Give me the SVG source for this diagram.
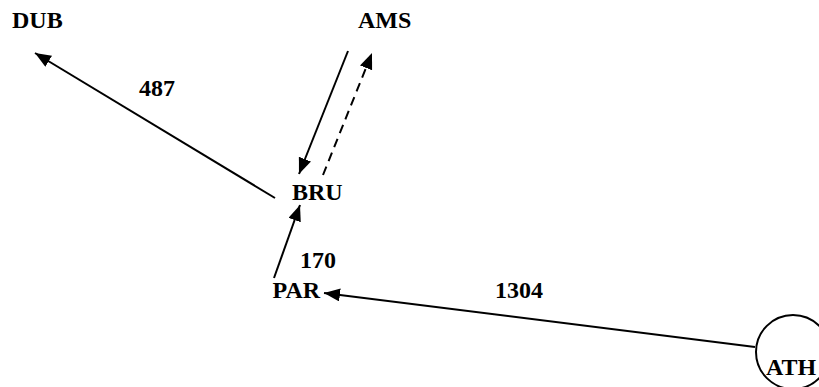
<svg xmlns="http://www.w3.org/2000/svg" width="819" height="387" viewBox="0 0 819 387">
<style>
text{font-family:"Liberation Serif","Times New Roman",serif;font-weight:bold;font-size:24px;fill:#000}
.e{stroke:#000;stroke-width:2;fill:none}
.d{stroke-dasharray:9 6}
</style>
<defs>
<marker id="ah" markerUnits="userSpaceOnUse" markerWidth="18" markerHeight="14" refX="16" refY="6.5" orient="auto">
<path d="M0,0 L16,6.5 L0,13 Z" fill="#000"/>
</marker>
</defs>
<rect width="819" height="387" fill="#fff"/>
<g id="connectors">
<line class="e" x1="275" y1="198" x2="35" y2="53" marker-end="url(#ah)"/>
<line class="e" x1="348" y1="51" x2="299" y2="174" marker-end="url(#ah)"/>
<line class="e d" x1="323" y1="175" x2="372" y2="53" marker-end="url(#ah)"/>
<line class="e" x1="274" y1="278" x2="300" y2="205" marker-end="url(#ah)"/>
<line class="e" x1="755" y1="347" x2="324" y2="293" marker-end="url(#ah)"/>
</g>
<g id="labels">
<text x="139" y="96">487</text>
<text x="300" y="268">170</text>
<text x="495" y="298">1304</text>
</g>
<g id="DUB"><text x="12" y="27.5">DUB</text></g>
<g id="AMS"><text x="358" y="27.5">AMS</text></g>
<g id="BRU"><text x="292" y="200">BRU</text></g>
<g id="PAR"><text x="272.5" y="298">PAR</text></g>
<g id="ATH"><circle cx="793" cy="352" r="37" fill="#fff" stroke="#000" stroke-width="2"/><text x="766" y="375">ATH</text></g>
</svg>
